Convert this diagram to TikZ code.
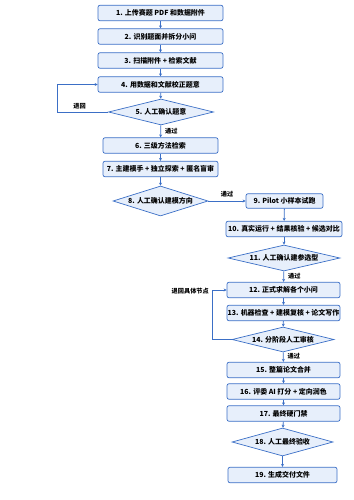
\documentclass[tikz,border=0pt]{standalone}
\usepackage{fontspec}
\setmainfont{Noto Sans CJK SC}
\usetikzlibrary{shapes.geometric,arrows.meta}
\definecolor{edgeblue}{HTML}{3B6FC6}
\definecolor{fillblue}{HTML}{E7EFFB}
\tikzset{
  box/.style={draw=edgeblue, fill=fillblue, line width=0.7bp, rounded corners=2bp,
    minimum height=#1, inner sep=0pt, font=\fontsize{7}{8}\selectfont\bfseries},
  box/.default=15.5bp,
  dec/.style={draw=edgeblue, fill=fillblue, line width=0.7bp, diamond, aspect=3.8,
    inner sep=0pt, font=\fontsize{7}{8}\selectfont\bfseries},
  conn/.style={draw=edgeblue, line width=0.8bp, -{Stealth[length=3bp,width=3bp]}},
  lbl/.style={font=\fontsize{6.2}{7}\selectfont\bfseries, inner sep=0pt}
}
\begin{document}
\begin{tikzpicture}[x=1bp,y=-1bp]
\useasboundingbox (0,0) rectangle (353,500);
% column 1
\node[box, minimum width=125bp] (n1) at (160.5,13) {1. 上传赛题 PDF 和数据附件};
\node[box, minimum width=125bp] (n2) at (160.5,36.5) {2. 识别题面并拆分小问};
\node[box, minimum width=125bp] (n3) at (160.5,60.5) {3. 扫描附件 + 检索文献};
\node[box, minimum width=125bp] (n4) at (160.5,84.5) {4. 用数据和文献校正题意};
\node[dec, minimum width=105bp, minimum height=26bp] (d5) at (161,112) {5. 人工确认题意};
\node[box, minimum width=115bp] (n6) at (160.5,145.5) {6. 三级方法检索};
\node[box, minimum width=115bp] (n7) at (160.5,169) {7. 主建模手 + 独立探索 + 匿名盲审};
\node[dec, minimum width=95bp, minimum height=30bp] (d8) at (160.5,201) {8. 人工确认建模方向};
% column 2
\node[box, minimum width=77bp, minimum height=14.5bp] (n9) at (284.5,201) {9. Pilot 小样本试跑};
\node[box, minimum width=116bp] (n10) at (284,229) {10. 真实运行 + 结果核验 + 候选对比};
\node[dec, minimum width=112bp, minimum height=26bp] (d11) at (284,258) {11. 人工确认建参选型};
\node[box, minimum width=113bp] (n12) at (283.5,290) {12. 正式求解各个小问};
\node[box, minimum width=113bp] (n13) at (283.5,313) {13. 机器检查 + 建模复核 + 论文写作};
\node[dec, minimum width=102bp, minimum height=25bp] (d14) at (283,339.5) {14. 分阶段人工审核};
\node[box, minimum width=113bp] (n15) at (283.5,370) {15. 整篇论文合并};
\node[box, minimum width=113bp] (n16) at (283.5,391.5) {16. 评委 AI 打分 + 定向润色};
\node[box, minimum width=113bp] (n17) at (283.5,413.5) {17. 最终硬门禁};
\node[dec, minimum width=101bp, minimum height=28bp] (d18) at (282.5,442) {18. 人工最终验收};
\node[box, minimum width=109bp] (n19) at (282.5,475) {19. 生成交付文件};
% loop corners
\coordinate (c1) at (57,112);
\coordinate (c2) at (57,84.5);
\coordinate (c3) at (212,339.5);
\coordinate (c4) at (212,290);
% connectors
\draw[conn] (n1) -- (n2);
\draw[conn] (n2) -- (n3);
\draw[conn] (n3) -- (n4);
\draw[conn] (n4) -- (d5);
\draw[conn] (d5) -- node[lbl, right=4bp, pos=0.45] {通过} (n6);
\draw[conn] (n6) -- (n7);
\draw[conn] (n7) -- (d8);
\draw[conn] (d8) -- node[lbl, above=3bp] {通过} (n9);
\draw[conn] (n9) -- (n10);
\draw[conn] (n10) -- (d11);
\draw[conn] (d11) -- node[lbl, right=4bp, pos=0.45] {通过} (n12);
\draw[conn] (n12) -- (n13);
\draw[conn] (n13) -- (d14);
\draw[conn] (d14) -- node[lbl, right=4bp, pos=0.45] {通过} (n15);
\draw[conn] (n15) -- (n16);
\draw[conn] (n16) -- (n17);
\draw[conn] (n17) -- (d18);
\draw[conn] (d18) -- (n19);
\draw[conn] (d5.west) -- (c1) -- (c2) -- (n4.west);
\draw[conn] (d14.west) -- (c3) -- (c4) -- (n12.west);
\node[lbl] (l5) at (79.5,106) {退回};
\node[lbl, anchor=east] (l14) at (209,291) {退回具体节点};
\end{tikzpicture}
\end{document}
